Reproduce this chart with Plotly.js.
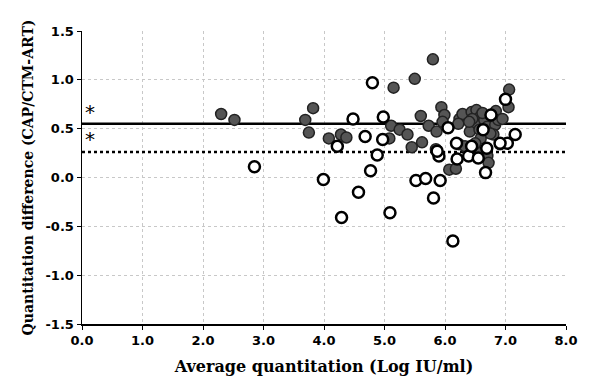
<!DOCTYPE html>
<html>
<head>
<meta charset="utf-8">
<script src="https://cdn.plot.ly/plotly-3.0.1.min.js"></script>
<style>html,body{margin:0;padding:0;background:#fff;}#chart{width:607px;height:385px;}</style>
</head>
<body>
<div id="chart"></div>
<script>
// Filled (gray) points
const filledX = [2.30,2.52,3.69,3.82,3.75,4.08,4.28,4.37,5.15,5.50,5.80,5.11,5.25,5.38,5.08,5.60,5.62,5.45,5.73,5.86,5.85,5.94,5.99,5.96,6.07,6.18,6.23,6.24,6.29,6.22,6.33,6.44,6.52,6.58,6.49,6.41,6.57,6.59,6.65,6.70,6.84,6.83,6.88,6.80,6.59,6.70,6.72,6.91,6.95,7.06,7.05,6.62,6.45,6.75,6.50,6.40];
const filledY = [0.65,0.59,0.59,0.71,0.46,0.40,0.44,0.41,0.92,1.01,1.21,0.53,0.49,0.44,0.40,0.63,0.36,0.31,0.53,0.47,0.29,0.72,0.64,0.57,0.08,0.09,0.34,0.60,0.65,0.55,0.32,0.67,0.69,0.62,0.55,0.47,0.49,0.40,0.59,0.52,0.68,0.54,0.59,0.44,0.25,0.22,0.15,0.34,0.60,0.90,0.72,0.66,0.60,0.45,0.35,0.57];
// Hollow (white) points
const hollowX = [2.85,3.99,4.22,4.29,4.48,4.57,4.68,4.80,4.88,4.77,4.98,4.97,5.09,5.52,5.68,5.92,5.81,6.13,5.90,6.05,6.20,6.39,6.44,6.69,6.67,7.03,7.00,7.16,6.63,6.76,6.91,6.19,5.87,6.55];
const hollowY = [0.11,-0.02,0.32,-0.41,0.60,-0.15,0.42,0.97,0.23,0.07,0.62,0.39,-0.36,-0.03,-0.01,-0.03,-0.21,-0.65,0.22,0.51,0.19,0.22,0.32,0.30,0.05,0.35,0.80,0.44,0.49,0.64,0.35,0.35,0.27,0.20];
// Reference lines
const lineX = [0, 8];
const meanDiff = 0.55;
const refDiff = 0.26;
// Tick labels
const xTicks = [0,1,2,3,4,5,6,7,8];
const xTickText = ["0.0","1.0","2.0","3.0","4.0","5.0","6.0","7.0","8.0"];
const yTicks = [-1.5,-1.0,-0.5,0,0.5,1.0,1.5];
const yTickText = ["-1.5","-1.0","-0.5","0.0","0.5","1.0","1.5"];
const asteriskX = 0.13;
const asteriskY = [0.67, 0.39];

const tickFont = {family: "DejaVu Sans, sans-serif", size: 13, color: "#000", weight: "bold"};
const yTitleFont = {family: "DejaVu Serif, serif", size: 14, color: "#000", weight: "bold"};
const xTitleFont = {family: "DejaVu Serif, serif", size: 16, color: "#000", weight: "bold"};

const traces = [
  {x: lineX, y: [meanDiff, meanDiff], mode: "lines", line: {color: "#000", width: 2.5}, hoverinfo: "skip", showlegend: false},
  {x: lineX, y: [refDiff, refDiff], mode: "lines", line: {color: "#000", width: 2.5, dash: "dot"}, hoverinfo: "skip", showlegend: false},
  {x: filledX, y: filledY, mode: "markers", marker: {size: 11, color: "#555", line: {color: "#222", width: 1.5}}, showlegend: false},
  {x: hollowX, y: hollowY, mode: "markers", marker: {size: 11, color: "#fff", line: {color: "#000", width: 2.5}}, showlegend: false}
];

const layout = {
  width: 607, height: 385,
  margin: {l: 82, r: 41, t: 31, b: 61},
  paper_bgcolor: "#fff", plot_bgcolor: "#fff",
  showlegend: false,
  xaxis: {
    range: [0, 8], tickvals: xTicks, ticktext: xTickText,
    showgrid: true, gridcolor: "#c8c8c8", griddash: "dot", gridwidth: 1,
    zeroline: false, showline: true, linecolor: "#000", linewidth: 1.5,
    ticks: "outside", ticklen: 4, tickcolor: "#000",
    tickfont: tickFont,
    title: {text: "Average quantitation (Log IU/ml)", font: xTitleFont, standoff: 13}
  },
  yaxis: {
    range: [-1.5, 1.5], tickvals: yTicks, ticktext: yTickText,
    showgrid: true, gridcolor: "#c8c8c8", griddash: "dot", gridwidth: 1,
    zeroline: false, showline: true, linecolor: "#000", linewidth: 1.5,
    ticks: "outside", ticklen: 4, tickcolor: "#000",
    tickfont: tickFont,
    title: {text: "Quantitation difference (CAP/CTM-ART)", font: yTitleFont, standoff: 8}
  },
  annotations: asteriskY.map(v => ({x: asteriskX, y: v, xref: "x", yref: "y", text: "*", showarrow: false, font: {family: "DejaVu Sans, sans-serif", size: 20, color: "#000"}}))
};

Plotly.newPlot("chart", traces, layout, {displayModeBar: false, staticPlot: true});
</script>
</body>
</html>
